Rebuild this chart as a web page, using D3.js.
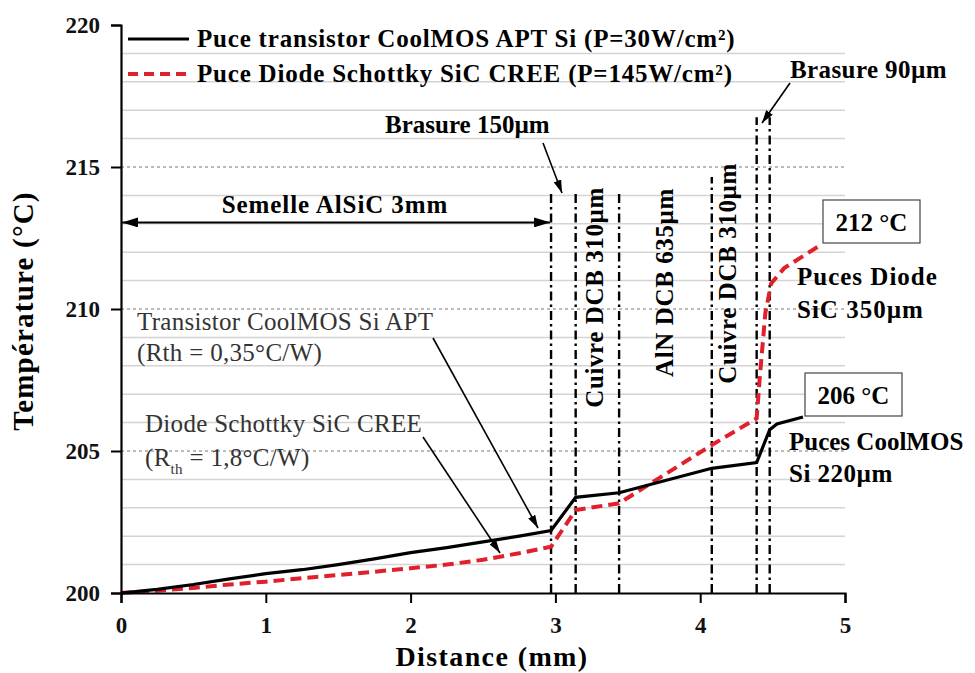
<!DOCTYPE html>
<html>
<head>
<meta charset="utf-8">
<script src="https://cdn.jsdelivr.net/npm/d3@7"></script>
<style>
  body { margin: 0; background: #fff; }
  text { font-family: "Liberation Serif", "DejaVu Serif", serif; }
</style>
</head>
<body>
<svg id="chart" width="975" height="673"></svg>
<script>
// values
var distTransistor = [0, 0.25, 0.5, 0.75, 1.0, 1.25, 1.5, 1.75, 2.0, 2.25, 2.5, 2.75, 2.97, 3.14, 3.44, 4.08, 4.39, 4.48, 4.53, 4.71];
var tempTransistor = [200, 200.13, 200.3, 200.5, 200.68, 200.82, 201.0, 201.2, 201.42, 201.6, 201.8, 202.0, 202.2, 203.37, 203.53, 204.39, 204.59, 205.75, 205.95, 206.2];

var distDiode = [0, 0.25, 0.5, 0.75, 1.0, 1.25, 1.5, 1.75, 2.0, 2.25, 2.5, 2.75, 2.97, 3.14, 3.44, 4.08, 4.39, 4.41, 4.45, 4.49, 4.58, 4.83];
var tempDiode = [200, 200.08, 200.18, 200.3, 200.4, 200.52, 200.63, 200.75, 200.87, 201.0, 201.17, 201.4, 201.63, 202.92, 203.16, 205.21, 206.15, 207.5, 209.86, 210.9, 211.44, 212.25];

// interfaces between the layers (mm) and how high each marker line goes (°C)
var layerBounds = [2.97, 3.14, 3.44, 4.08, 4.39, 4.48];
var layerTops = [214.1, 214.1, 214.1, 214.65, 216.75, 216.75];

var xTicks = [0, 1, 2, 3, 4, 5];
var yTicks = [200, 205, 210, 215, 220];

var seriesNames = ["Puce transistor CoolMOS APT Si (P=30W/cm²)", "Puce Diode Schottky SiC CREE (P=145W/cm²)"];

var svg = d3.select("#chart");

var x = d3.scaleLinear().domain([0, 5]).range([121, 845]);
var y = d3.scaleLinear().domain([200, 220]).range([593, 25]);

// arrow heads
var defs = svg.append("defs");
function marker(id, len, wid) {
    defs.append("marker")
        .attr("id", id)
        .attr("markerUnits", "userSpaceOnUse")
        .attr("viewBox", "0 0 " + len + " " + wid)
        .attr("refX", len).attr("refY", wid / 2)
        .attr("markerWidth", len).attr("markerHeight", wid)
        .attr("orient", "auto-start-reverse")
        .append("path")
        .attr("d", "M0,0L" + len + "," + (wid / 2) + "L0," + wid + "Z")
        .attr("fill", "#000");
}
marker("arr", 13, 8);
marker("arrBig", 16, 10);

// grid lines
var gridVals = d3.range(201, 220);
svg.append("g").selectAll("line")
    .data(gridVals)
    .enter().append("line")
    .attr("x1", x(0)).attr("x2", x(5))
    .attr("y1", function(d) { return y(d); })
    .attr("y2", function(d) { return y(d); })
    .attr("stroke", function(d) { return d % 5 == 0 ? "#777" : "#d4d4d4"; })
    .attr("stroke-width", function(d) { return d % 5 == 0 ? 1 : 1.5; })
    .attr("stroke-dasharray", function(d) { return d % 5 == 0 ? "3,3" : null; });

// layer boundaries
svg.append("g").selectAll("line")
    .data(layerBounds)
    .enter().append("line")
    .attr("x1", function(d) { return x(d); })
    .attr("x2", function(d) { return x(d); })
    .attr("y1", y(200))
    .attr("y2", function(d, i) { return y(layerTops[i]); })
    .attr("stroke", "#000")
    .attr("stroke-width", 2.4)
    .attr("stroke-dasharray", "9,4,2.5,4");

// curves
var line = d3.line()
    .x(function(d) { return x(d[0]); })
    .y(function(d) { return y(d[1]); });

var transistorPts = d3.zip(distTransistor, tempTransistor);
var diodePts = d3.zip(distDiode, tempDiode);

svg.append("path")
    .datum(diodePts)
    .attr("d", line)
    .attr("fill", "none")
    .attr("stroke", "#e0202a")
    .attr("stroke-width", 4)
    .attr("stroke-dasharray", "11,6");

svg.append("path")
    .datum(transistorPts)
    .attr("d", line)
    .attr("fill", "none")
    .attr("stroke", "#000")
    .attr("stroke-width", 3.2);

// axes
var xAxis = svg.append("g").attr("transform", "translate(0," + y(200) + ")");
xAxis.call(d3.axisBottom(x).tickValues(d3.range(0, 5.001, 0.1)).tickSize(6).tickFormat(""));
xAxis.call(d3.axisBottom(x).tickValues(xTicks).tickSize(10).tickPadding(14).tickFormat(d3.format("d")));

var yAxis = svg.append("g").attr("transform", "translate(" + x(0) + ",0)");
yAxis.call(d3.axisLeft(y).tickValues(d3.range(200, 220.5, 1)).tickSize(6).tickFormat(""));
yAxis.call(d3.axisLeft(y).tickValues(yTicks).tickSize(10).tickPadding(11).tickFormat(d3.format("d")));

svg.selectAll(".domain").attr("stroke", "#000").attr("stroke-width", 2.2);
svg.selectAll(".tick line").attr("stroke", "#000").attr("stroke-width", 2);
svg.selectAll(".tick text")
    .attr("font-family", "Liberation Serif")
    .attr("font-size", 23)
    .attr("font-weight", "bold")
    .attr("fill", "#111");

// axis titles
svg.append("text")
    .attr("x", 492).attr("y", 666)
    .attr("text-anchor", "middle")
    .attr("font-size", 28).attr("font-weight", "bold")
    .attr("letter-spacing", 1.4)
    .text("Distance (mm)");

svg.append("text")
    .attr("transform", "translate(33,311) rotate(-90)")
    .attr("text-anchor", "middle")
    .attr("font-size", 29).attr("font-weight", "bold")
    .attr("letter-spacing", 1.2)
    .text("Température (°C)");

// legend
var legendRows = [39, 74];
legendRows.forEach(function(ly, i) {
    svg.append("line")
        .attr("x1", 128).attr("x2", 189)
        .attr("y1", ly).attr("y2", ly)
        .attr("stroke", i == 0 ? "#000" : "#e0202a")
        .attr("stroke-width", i == 0 ? 3.2 : 4)
        .attr("stroke-dasharray", i == 0 ? null : "10,6");
    svg.append("text")
        .attr("x", 197).attr("y", ly + 8)
        .attr("font-size", 25).attr("font-weight", "bold")
        .attr("letter-spacing", 0.8)
        .text(seriesNames[i]);
});

// bold labels
function label(txt, lx, ly, anchor) {
    return svg.append("text")
        .attr("x", lx).attr("y", ly)
        .attr("text-anchor", anchor || "start")
        .attr("font-size", 25).attr("font-weight", "bold")
        .attr("letter-spacing", 0.4)
        .text(txt);
}

label("Semelle AlSiC 3mm", 335, 213, "middle").attr("letter-spacing", 0.9);
svg.append("line")
    .attr("x1", x(0) + 1).attr("x2", x(2.97) - 1)
    .attr("y1", y(213.05)).attr("y2", y(213.05))
    .attr("stroke", "#000").attr("stroke-width", 2)
    .attr("marker-start", "url(#arrBig)")
    .attr("marker-end", "url(#arrBig)");

label("Brasure 150µm", 385, 133).attr("letter-spacing", 0);
svg.append("line")
    .attr("x1", 543).attr("y1", 143).attr("x2", 562).attr("y2", 193)
    .attr("stroke", "#000").attr("stroke-width", 1.6)
    .attr("marker-end", "url(#arr)");

label("Brasure 90µm", 790, 78);
svg.append("line")
    .attr("x1", 790).attr("y1", 83).attr("x2", 762).attr("y2", 123)
    .attr("stroke", "#000").attr("stroke-width", 1.6)
    .attr("marker-end", "url(#arr)");

// rotated layer names
[["Cuivre DCB 310µm", 603, 187], ["AlN DCB 635µm", 673, 188], ["Cuivre DCB 310µm", 736, 163]].forEach(function(d) {
    svg.append("text")
        .attr("transform", "translate(" + d[1] + "," + d[2] + ") rotate(-90)")
        .attr("text-anchor", "end")
        .attr("font-size", 25).attr("font-weight", "bold")
        .attr("letter-spacing", 0.6)
        .text(d[0]);
});

label("Puces Diode", 797, 285).attr("letter-spacing", 1);
label("SiC 350µm", 797, 318).attr("letter-spacing", 1);
label("Puces CoolMOS", 789, 450).attr("letter-spacing", 0);
label("Si 220µm", 789, 482).attr("letter-spacing", 0.5);

// max temperature boxes
[["212 °C", 823, 200], ["206 °C", 805, 373]].forEach(function(d) {
    svg.append("rect")
        .attr("x", d[1]).attr("y", d[2])
        .attr("width", 97).attr("height", 43)
        .attr("fill", "#fff").attr("stroke", "#444").attr("stroke-width", 1.2);
    svg.append("text")
        .attr("x", d[1] + 48.5).attr("y", d[2] + 31)
        .attr("text-anchor", "middle")
        .attr("font-size", 25).attr("font-weight", "bold")
        .text(d[0]);
});

// thermal resistance notes
var note = svg.append("g").attr("fill", "#333").attr("font-size", 25).attr("letter-spacing", 0.3);
note.append("text").attr("x", 137).attr("y", 330).text("Transistor CoolMOS Si APT");
note.append("text").attr("x", 137).attr("y", 361).text("(Rth = 0,35°C/W)");
note.append("text").attr("x", 145).attr("y", 432).text("Diode Schottky SiC CREE");
var rth = note.append("text").attr("x", 145).attr("y", 466);
rth.append("tspan").text("(R");
rth.append("tspan").attr("font-size", 15).attr("dy", 8).text("th");
rth.append("tspan").attr("dy", -8).text(" = 1,8°C/W)");

svg.append("line")
    .attr("x1", 433).attr("y1", 338).attr("x2", 538).attr("y2", 528)
    .attr("stroke", "#000").attr("stroke-width", 1.6)
    .attr("marker-end", "url(#arr)");
svg.append("line")
    .attr("x1", 423).attr("y1", 437).attr("x2", 500).attr("y2", 553)
    .attr("stroke", "#000").attr("stroke-width", 1.6)
    .attr("marker-end", "url(#arr)");
</script>
</body>
</html>
